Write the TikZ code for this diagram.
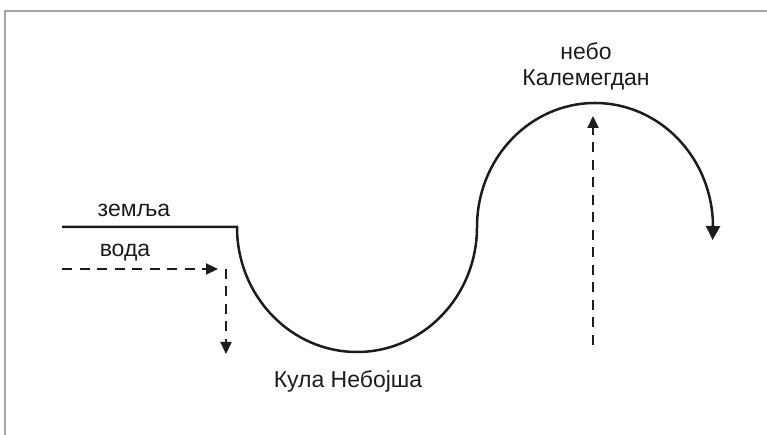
\documentclass[tikz,border=0pt]{standalone}
\usepackage{fontspec}
\setmainfont{Liberation Sans}
\usepackage{xcolor}
\definecolor{framegray}{RGB}{165,165,165}
\definecolor{routeblack}{RGB}{28,28,28}
\usetikzlibrary{arrows.meta,bending}
\tikzset{
  frame line/.style={draw=framegray, line width=1.3pt},
  route line/.style={draw=routeblack, line width=2.5pt},
  route edge/.style={route line, -{Triangle[length=14pt, width=14pt, bend]}},
  flow edge/.style={draw=routeblack, line width=2.3pt, dash pattern=on 10pt off 7.5pt, -{Triangle[length=12pt, width=11pt]}},
  route label/.style={font=\fontsize{23}{26}\selectfont, text=routeblack, inner sep=0pt, align=center},
}
\begin{document}
\begin{tikzpicture}[x=1pt, y=1pt]
  \useasboundingbox (0,0) rectangle (767,435);
  \coordinate (fb) at (5,0); \coordinate (fc) at (5,424); \coordinate (fr) at (767,424);
  \draw[frame line] (fb) -- (fc) -- (fr);
  \coordinate (z0) at (62,208); \coordinate (z1) at (237,208);
  \draw[route edge] (z0) -- (z1) arc[start angle=180, end angle=360, x radius=120, y radius=125] arc[start angle=180, end angle=-6, x radius=118, y radius=124];
  \node[route label, anchor=base] (zemlja) at (134,218) {земља};
  \node[route label, anchor=base] (voda) at (125,178) {вода};
  \node[route label] (nebo) at (586,369) {небо\\Калемегдан};
  \node[route label, anchor=base] (kula) at (348,47) {Кула Небојша};
  \coordinate (w0) at (62,166); \coordinate (w1) at (218,166);
  \coordinate (d0) at (226,166); \coordinate (d1) at (226,81);
  \coordinate (u0) at (593,90); \coordinate (u1) at (593,319);
  \draw[flow edge] (w0) -- (w1); \draw[flow edge] (d0) -- (d1); \draw[flow edge] (u0) -- (u1);
\end{tikzpicture}
\end{document}
